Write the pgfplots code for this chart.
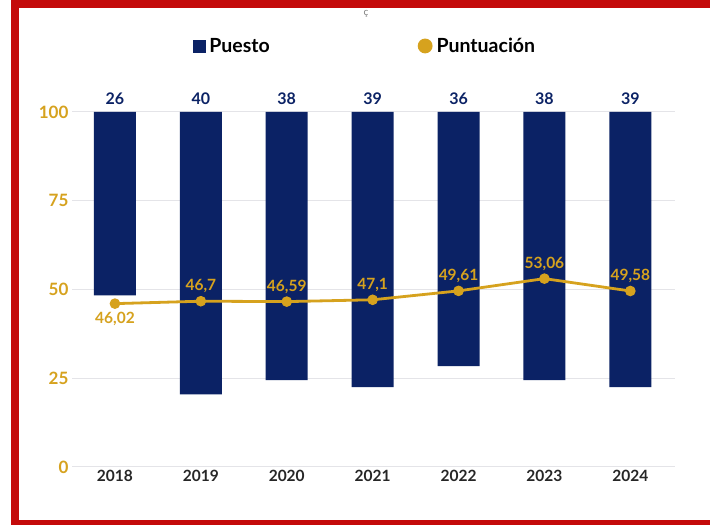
\documentclass[border=0pt]{standalone}
\usepackage{fontspec}
\setmainfont{Lato}
\usepackage{pgfplots}
\pgfplotsset{compat=1.18}
\usepackage{pgfplotstable}

\definecolor{navy}{HTML}{0B2265}
\definecolor{gold}{HTML}{D6A21E}
\definecolor{frame}{HTML}{C40A0A}
\definecolor{gridgray}{HTML}{E4E4E8}

% Puesto (rank) per year
\pgfplotstableread{
x rank
0 26
1 40
2 38
3 39
4 36
5 38
6 39
}\rankdata

% Puntuacion (score) per year
\pgfplotstableread{
x score
0 46.02
1 46.70
2 46.59
3 47.10
4 49.61
5 53.06
6 49.58
}\scoredata

\pgfplotsset{
  /pgf/number format/assume math mode=true,
  base/.style={at={(72pt,58pt)}, anchor=south west, scale only axis,
    width=603pt, height=355pt, xmin=-0.5, xmax=6.52},
  lbl/.style={draw=none, forget plot, nodes near coords, point meta=explicit,
    every node near coord/.append style={text=gold, inner sep=0pt,
      font=\fontsize{15.5}{18}\selectfont\bfseries}},
}

\begin{document}
\begin{tikzpicture}[x=1pt,y=1pt]
\path[use as bounding box] (0,0) rectangle (710,525);
% red frame
\fill[frame] (11,0) rectangle (710,525);
\fill[white] (19,5) rectangle (710,517);
\node[text=gray, font=\fontsize{10}{12}\selectfont] at (366,511) {ç};

% grid and ticks
\begin{axis}[base, ymin=0, ymax=100,
  ytick={0,25,50,75,100}, ymajorgrids,
  grid style={gridgray, line width=1pt},
  axis line style={draw=none}, tick style={draw=none},
  xtick={0,...,6}, xticklabels={2018,2019,2020,2021,2022,2023,2024},
  yticklabel style={text=gold, font=\fontsize{17}{18}\selectfont\bfseries},
  xticklabel style={text=black!85, font=\fontsize{15.5}{18}\selectfont\bfseries},
]
\addplot[draw=none] coordinates {(0,0)};
\end{axis}

% bars: rank on a reversed axis
\begin{axis}[base, hide axis, clip=false, ymin=0, ymax=50.3, y dir=reverse]
\addplot[ybar, bar width=42pt, bar shift=0pt, fill=navy, draw=none]
  table[x=x, y=rank]{\rankdata};
\addplot[draw=none, nodes near coords, point meta=explicit,
  every node near coord/.append style={text=navy, anchor=south, inner sep=0pt,
    yshift=7pt, font=\fontsize{16}{18}\selectfont\bfseries}]
  table[x=x, y expr=0, meta=rank]{\rankdata};
\end{axis}

% score line
\begin{axis}[base, hide axis, clip=false, ymin=0, ymax=100,
  legend columns=2,
  legend style={at={(0.486,1.186)}, anchor=center, draw=none, fill=none,
    font=\fontsize{19.5}{22}\selectfont\bfseries,
    /tikz/every even column/.append style={column sep=146pt}},
  /pgf/number format/.cd, use comma, 1000 sep={},
]
\addlegendimage{legend image code/.code={\fill[navy] (0pt,-6pt) rectangle (12pt,6pt);
  \path (14pt,0pt);}}
\addlegendentry{Puesto}
\addplot[gold, line width=2.8pt, mark=*, mark size=4.8pt,
  mark options={fill=gold, draw=gold, line width=1pt},
  legend image code/.code={\fill[gold] (6pt,0pt) circle (6pt); \path (14pt,0pt);}]
  table[x=x, y=score]{\scoredata};
\addlegendentry{Puntuación}
% value labels: below for the first year, above for the others
\addplot[lbl, x filter/.expression={x==0 ? x : nan},
  every node near coord/.append style={anchor=north, yshift=-8pt}]
  table[x=x, y=score, meta=score]{\scoredata};
\addplot[lbl, x filter/.expression={x==0 ? nan : x},
  every node near coord/.append style={anchor=south, yshift=8pt}]
  table[x=x, y=score, meta=score]{\scoredata};
\end{axis}
\end{tikzpicture}
\end{document}
